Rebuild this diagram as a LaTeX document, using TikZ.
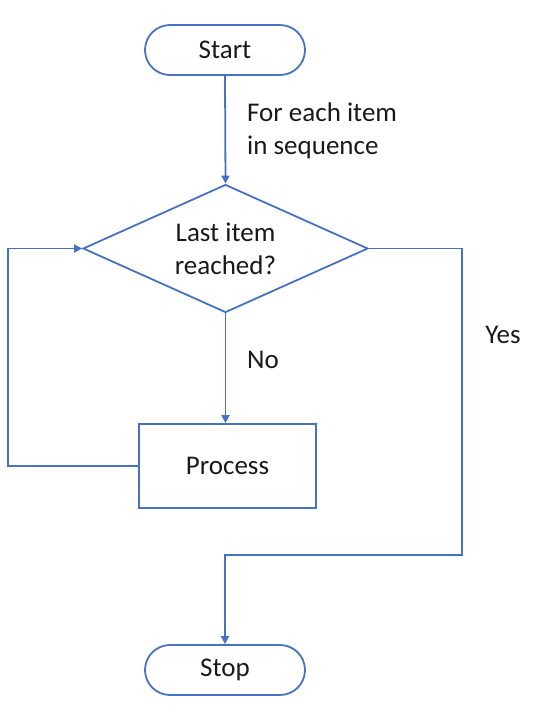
\documentclass[tikz,border=0pt]{standalone}
\usepackage{fontspec}
\setmainfont{Carlito}
\usetikzlibrary{shapes.geometric,shapes.misc,arrows.meta}
\definecolor{fcblue}{HTML}{4472C4}
\begin{document}
\begin{tikzpicture}[x=1pt,y=-1pt,
  every node/.style={font=\fontsize{27}{33}\selectfont, text=black!90},
  term/.style={rounded rectangle, draw=fcblue, line width=1.8pt, minimum width=160pt, minimum height=50pt, inner sep=0pt},
  decide/.style={diamond, aspect=2.2, draw=fcblue, line width=1.8pt, minimum width=285pt, minimum height=128pt, inner sep=0pt, align=center},
  procbox/.style={rectangle, draw=fcblue, line width=1.8pt, minimum width=177pt, minimum height=84pt, inner sep=0pt},
  conn/.style={draw=fcblue, line width=1.8pt},
  arr/.style={conn, -{Triangle[length=8pt,width=8pt]}},
  lbl/.style={align=left, inner sep=0pt}]
\useasboundingbox (0,0) rectangle (544,721);
\node[term] (start) at (225,50) {Start};
\node[decide] (dec) at (225.5,248.5) {Last item\\reached?};
\node[procbox] (proc) at (227.5,466) {Process};
\node[term] (stop) at (225,670) {Stop};
\node[lbl, anchor=west] (lab1) at (247,131) {For each item\\in sequence};
\node[lbl] (labno) at (263,360) {No};
\node[lbl] (labyes) at (503,335) {Yes};
\coordinate (c1) at (8,466);
\coordinate (c2) at (8,248.5);
\coordinate (c3) at (462,248.5);
\coordinate (c4) at (462,555);
\coordinate (c5) at (225,555);
\draw[arr] (start.south) -- (dec.north);
\draw[arr] (dec.south) -- (proc.north -| dec.south);
\draw[arr] (proc.west) -- (c1) -- (c2) -- (dec.west);
\draw[arr] (dec.east) -- (c3) -- (c4) -- (c5) -- (stop.north);
\end{tikzpicture}
\end{document}
